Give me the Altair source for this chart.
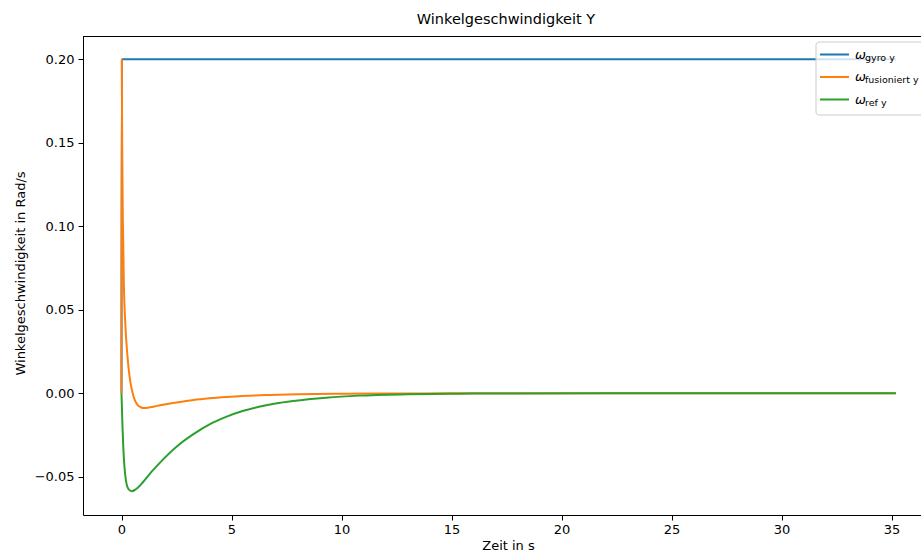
import altair as alt
import pandas as pd

# Time axis (s) and angular rate (rad/s) for each signal
t_gyro = [0.0, 0.01, 35.2]
w_gyro = [0.0, 0.2, 0.2]

t_fus = [0.0, 0.01, 0.03, 0.06, 0.11, 0.18, 0.26, 0.33, 0.40, 0.50, 0.60, 0.75, 0.90,
         1.0, 1.2, 1.5, 1.75, 2.5, 3.27, 4.0, 4.78, 5.5, 6.75, 8.0, 10.0, 12.0, 15.0,
         20.0, 25.0, 30.0, 35.2]
w_fus = [0.0, 0.2, 0.15, 0.105, 0.064, 0.040, 0.024, 0.014, 0.007, 0.0005, -0.004,
         -0.0072, -0.0085, -0.0088, -0.0086, -0.0079, -0.0072, -0.0055, -0.0040, -0.0030,
         -0.0022, -0.0016, -0.0010, -0.0006, -0.0003, -0.00015, -0.00005,
         0.0, 0.0, 0.0, 0.0]

t_ref = [0.0, 0.04, 0.08, 0.14, 0.2, 0.3, 0.46, 0.65, 0.99, 1.4, 1.75, 2.5, 3.27, 4.02,
         4.78, 5.54, 6.3, 7.0, 7.8, 9.3, 10.8, 13.0, 15.0, 18.0, 22.0, 26.0, 30.0, 35.2]
w_ref = [0.0, -0.018, -0.032, -0.045, -0.052, -0.057, -0.0587, -0.0575, -0.0530, -0.0465,
         -0.0415, -0.0320, -0.0245, -0.0185, -0.0140, -0.0105, -0.0079, -0.0061, -0.0046,
         -0.0026, -0.0014, -0.0006, -0.00025, -0.0001, 0.0, 0.0, 0.0, 0.0]

series_names = ["gyro y", "fusioniert y", "ref y"]
series_colors = ["#1f77b4", "#ff7f0e", "#2ca02c"]

x_ticks = [0, 5, 10, 15, 20, 25, 30, 35]
y_ticks = [-0.05, 0.0, 0.05, 0.10, 0.15, 0.20]

FONT = "DejaVu Sans"
W, H = 838, 479

x_scale = alt.Scale(domain=[-1.75, 36.34], nice=False, zero=False)
y_scale = alt.Scale(domain=[-0.0729, 0.2140], nice=False, zero=False)

x_axis = alt.Axis(values=x_ticks, format="d", title="Zeit in s", grid=False,
                  labelFont=FONT, labelFontSize=13, labelColor="#000",
                  titleFont=FONT, titleFontSize=13, titleFontWeight="normal", titleColor="#000",
                  tickColor="#000", tickSize=5, labelPadding=3, domainColor="#000",
                  titleX=425, titleY=30, titleBaseline="middle")
y_axis = alt.Axis(values=y_ticks, format=".2f", title="Winkelgeschwindigkeit in Rad/s",
                  grid=False, labelFont=FONT, labelFontSize=13, labelColor="#000",
                  titleFont=FONT, titleFontSize=13, titleFontWeight="normal", titleColor="#000",
                  tickColor="#000", tickSize=5, labelPadding=4, domainColor="#000",
                  titleX=-63, titleY=237, titleBaseline="middle", titleAlign="center")


def series_layer(t, w, color):
    df = pd.DataFrame({"t": t, "w": w})
    return alt.Chart(df).mark_line(color=color, strokeWidth=2, interpolate="monotone").encode(
        x=alt.X("t:Q", scale=x_scale, axis=x_axis),
        y=alt.Y("w:Q", scale=y_scale, axis=y_axis),
    )


gyro = series_layer(t_gyro, w_gyro, series_colors[0])
fus = series_layer(t_fus, w_fus, series_colors[1])
ref = series_layer(t_ref, w_ref, series_colors[2])

one = pd.DataFrame({"k": [0]})

# top spine of the frame
top_spine = alt.Chart(one).mark_rule(color="#000", strokeWidth=1).encode(
    x=alt.value(0), x2=alt.value(W), y=alt.value(0.5)
)

# legend box with one entry per signal
legend_box = alt.Chart(one).mark_rect(
    fill="white", fillOpacity=0.8, stroke="#cccccc", strokeWidth=1, cornerRadius=3
).encode(x=alt.value(733), x2=alt.value(860), y=alt.value(6), y2=alt.value(79))

legend_rows = [18.5, 41, 63.5]
legend_layers = [legend_box]
for name, color, ry in zip(series_names, series_colors, legend_rows):
    legend_layers.append(
        alt.Chart(one).mark_rule(color=color, strokeWidth=2).encode(
            x=alt.value(737), x2=alt.value(766), y=alt.value(ry)
        )
    )
    legend_layers.append(
        alt.Chart(one).mark_text(text="ω", font=FONT, fontSize=13, fontStyle="italic",
                                 align="left", baseline="alphabetic", color="#000").encode(
            x=alt.value(772), y=alt.value(ry + 4)
        )
    )
    legend_layers.append(
        alt.Chart(one).mark_text(text=name, font=FONT, fontSize=9.5,
                                 align="left", baseline="alphabetic", color="#000").encode(
            x=alt.value(782), y=alt.value(ry + 6)
        )
    )

chart = alt.layer(gyro, fus, ref, top_spine, *legend_layers).properties(
    width=W, height=H,
    title=alt.TitleParams("Winkelgeschwindigkeit Y", font=FONT, fontSize=14.5,
                          fontWeight="normal", color="#000", anchor="middle", dx=4, offset=9),
    autosize=alt.AutoSizeParams(type="none"),
    padding={"left": 83, "top": 36, "right": 0, "bottom": 37},
).configure_view(stroke="transparent").configure(background="white")

chart.save("out.html", embed_options={"renderer": "svg", "actions": False})
